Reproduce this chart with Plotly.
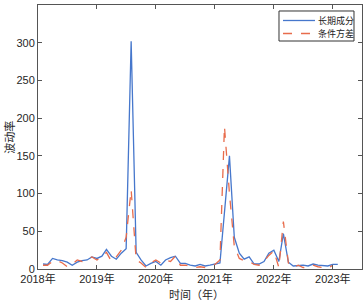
import pandas as pd
import plotly.graph_objects as go

months = pd.date_range("2018-02-01", periods=61, freq="MS")
long_term = [6.6, 6, 14, 12, 11, 9, 5, 9, 11, 12, 16, 14, 17, 26, 17, 13, 21, 27, 302, 22,
             12, 4, 7.5, 10, 5, 12, 15, 17, 7.5, 7.5, 5, 4, 6, 4, 5, 6.6, 8, 75, 150, 42,
             21, 13, 16, 6.6, 6.6, 10, 21, 25, 10, 47, 9, 4, 5, 5, 4, 6.6, 5, 5, 4, 6, 6]
cond_var = [5, 5, 10, 11, 8, 3, 6, 12, 10, 13, 16, 12, 16, 22, 10, 16, 25, 42, 105, 12,
            8, 2, 8, 12, 8, 12, 10, 17, 5, 5, 3, 2, 3, 2, 3, 6, 12, 189, 100, 30,
            14, 11, 10, 6, 5, 10, 18, 24, 2, 63, 8, 2, 5, 2, 2, 5, 3, 2, 1, 5, None]
names = ["长期成分", "条件方差"]
colors = ["#4677CC", "#E86C4C"]
dashes = ["solid", "dash"]
year_ticks = ["2018-01-01", "2019-01-01", "2020-01-01", "2021-01-01", "2022-01-01", "2023-01-01"]
year_labels = ["2018年", "2019年", "2020年", "2021年", "2022年", "2023年"]
x_title = "时间（年）"
y_title = "波动率"

cjk = "Noto Sans CJK SC"
num = "Liberation Sans, Arial, sans-serif"
axcol = "#555555"

fig = go.Figure()
for name, ys, col, dash in zip(names, [long_term, cond_var], colors, dashes):
    fig.add_trace(go.Scatter(x=months, y=ys, name=name, mode="lines", showlegend=False,
                             line=dict(color=col, width=1.3, dash=dash)))

# legend box drawn in paper coordinates (MATLAB-style compact legend)
shapes = [dict(type="rect", xref="paper", yref="paper", x0=0.7438, x1=0.9753,
               y0=0.8636, y1=0.9773, line=dict(color="#333333", width=1),
               fillcolor="white", layer="above")]
annotations = []
row_y = [0.9413, 0.8920]
for name, col, dash, yy in zip(names, colors, dashes, row_y):
    shapes.append(dict(type="line", xref="paper", yref="paper", x0=0.7562, x1=0.8549,
                       y0=yy, y1=yy, line=dict(color=col, width=1.3, dash=dash),
                       layer="above"))
    annotations.append(dict(text=name, xref="paper", yref="paper", x=0.8611, y=yy,
                            xanchor="left", yanchor="middle", showarrow=False,
                            borderpad=0,
                            font=dict(family=cjk, size=9, color="#222222")))

annotations += [
    dict(text=x_title, xref="paper", yref="paper", x=0.49, y=-0.0947, xanchor="center",
         yanchor="middle", showarrow=False,
         font=dict(family=cjk, size=11, color="#262626")),
    dict(text=y_title, xref="paper", yref="paper", x=-0.09, y=0.5, xanchor="center",
         yanchor="middle", textangle=-90, showarrow=False,
         font=dict(family=cjk, size=11, color="#262626")),
]

fig.update_layout(
    width=364, height=302,
    margin=dict(l=38, r=2, t=5, b=33, autoexpand=False),
    paper_bgcolor="white", plot_bgcolor="white",
    showlegend=False,
    xaxis=dict(range=["2018-01-01", "2023-07-01"], tickvals=year_ticks, ticktext=year_labels,
               showgrid=False, zeroline=False, showline=True, mirror="ticks",
               linecolor=axcol, linewidth=1, ticks="inside", ticklen=4, tickcolor=axcol,
               tickfont=dict(family=num + ", " + cjk, size=11, color="#262626"),
               automargin=False),
    yaxis=dict(range=[0, 350], dtick=50, showgrid=False, zeroline=False, showline=True,
               mirror="ticks", linecolor=axcol, linewidth=1, ticks="inside", ticklen=4,
               tickcolor=axcol, tickfont=dict(family=num, size=11, color="#262626"),
               automargin=False),
    shapes=shapes,
    annotations=annotations,
)

fig.write_html("out.html", config={"displayModeBar": False},
               post_script="document.body.style.margin='0';document.body.style.overflow='hidden';")
